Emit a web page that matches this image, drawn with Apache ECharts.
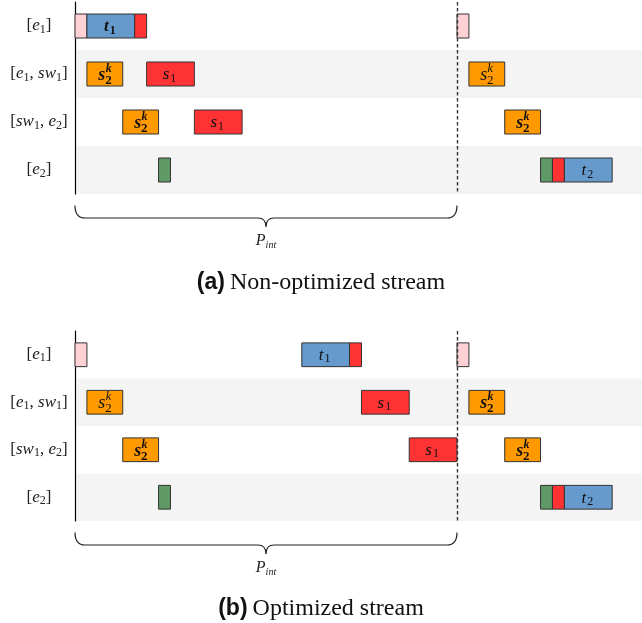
<!DOCTYPE html>
<html><head><meta charset="utf-8">
<script src="https://cdn.jsdelivr.net/npm/echarts@6/dist/echarts.min.js"></script>
<style>html,body{margin:0;padding:0;background:#fff}#c{width:642px;height:623px}</style>
</head><body><div id="c"></div>
<script>
// ---- data ----
const rowLabels = ['[e_1]', '[e_1, sw_1]', '[sw_1, e_2]', '[e_2]'];
const periodEnd = 32;      // end of P_int (in slot units)
const xMax = 47.5;
// each bar: [row, start, end, kind, label, bold]
const barsA = [
  [0, 0, 1, 'pink', '', 0], [0, 1, 5, 'blue', 't_1', 1], [0, 5, 6, 'red', '', 0], [0, 32, 33, 'pink', '', 0],
  [1, 1, 4, 'orange', 's_2^k', 1], [1, 6, 10, 'red', 's_1', 0], [1, 33, 36, 'orange', 's_2^k', 0],
  [2, 4, 7, 'orange', 's_2^k', 1], [2, 10, 14, 'red', 's_1', 0], [2, 36, 39, 'orange', 's_2^k', 1],
  [3, 7, 8, 'green', '', 0], [3, 39, 40, 'green', '', 0], [3, 40, 41, 'red', '', 0], [3, 41, 45, 'blue', 't_2', 0]
];
const barsB = [
  [0, 0, 1, 'pink', '', 0], [0, 19, 23, 'blue', 't_1', 0], [0, 23, 24, 'red', '', 0], [0, 32, 33, 'pink', '', 0],
  [1, 1, 4, 'orange', 's_2^k', 0], [1, 24, 28, 'red', 's_1', 0], [1, 33, 36, 'orange', 's_2^k', 1],
  [2, 4, 7, 'orange', 's_2^k', 1], [2, 28, 32, 'red', 's_1', 0], [2, 36, 39, 'orange', 's_2^k', 1],
  [3, 7, 8, 'green', '', 0], [3, 39, 40, 'green', '', 0], [3, 40, 41, 'red', '', 0], [3, 41, 45, 'blue', 't_2', 0]
];
const captionA = ['(a)', 'Non-optimized stream'];
const captionB = ['(b)', 'Optimized stream'];
const braceLabel = ['P', 'int'];

// ---- styles ----
const colors = {pink: '#ffd1d4', blue: '#6699cc', red: '#ff3333', orange: '#ff9900', green: '#5f9966'};
const SERIF = 'Liberation Serif';

function mathRich(str) {
  let out = '';
  for (let i = 0; i < str.length; i++) {
    const c = str[i];
    if (c === '_') { out += '{sub|' + str[++i] + '}'; }
    else if (/[a-z]/i.test(c)) out += '{it|' + c + '}';
    else out += '{up|' + c + '}';
  }
  return out;
}

function makeBarRender(bars) {
  return function (params, api) {
    const b = bars[params.dataIndex];
    const p0 = api.coord([api.value(1), api.value(0)]);
    const p1 = api.coord([api.value(2), api.value(0)]);
    const h = api.size([0, 1])[1] * 0.5;
    const cx = (p0[0] + p1[0]) / 2, cy = p0[1];
    const children = [{
      type: 'rect',
      shape: {x: p0[0], y: cy - h / 2, width: p1[0] - p0[0], height: h},
      style: {fill: colors[b[3]], stroke: '#333', lineWidth: 1}
    }];
    const label = b[4];
    const fw = b[5] ? 'bold' : 'normal';
    if (label.indexOf('^') >= 0) {
      const base = label[0], sub = label[2], sup = label[4];
      children.push({type: 'text', style: {text: base, x: cx + 0.5, y: cy + 1.5, align: 'right', verticalAlign: 'middle',
        fontFamily: SERIF, fontStyle: 'italic', fontWeight: fw, fontSize: 18, fill: '#111'}});
      children.push({type: 'text', style: {text: sup, x: cx + 0.8, y: cy - 5, align: 'left', verticalAlign: 'middle',
        fontFamily: SERIF, fontStyle: 'italic', fontWeight: fw, fontSize: 12, fill: '#111'}});
      children.push({type: 'text', style: {text: sub, x: cx + 0.3, y: cy + 6.5, align: 'left', verticalAlign: 'middle',
        fontFamily: SERIF, fontWeight: fw, fontSize: 13, fill: '#111'}});
    } else if (label) {
      const parts = label.split('_');
      children.push({type: 'text', style: {
        text: '{b|' + parts[0] + '}{s|' + parts[1] + '}', x: cx - 1, y: cy + 1, align: 'center', verticalAlign: 'middle',
        rich: {
          b: {fontFamily: SERIF, fontStyle: 'italic', fontWeight: fw, fontSize: 17, fill: '#111'},
          s: {fontFamily: SERIF, fontWeight: fw, fontSize: 12, padding: [7, 0, 0, 1], fill: '#111'}
        }}});
    }
    return {type: 'group', children: children};
  };
}

function braceRender(params, api) {
  const cs = params.coordSys;
  const x0 = api.coord([api.value(0), 0])[0];
  const x1 = api.coord([api.value(1), 0])[0];
  const yb = cs.y + cs.height;
  const yTop = yb + 11.5, yMid = yb + 24, yTip = yb + 33;
  const xc = (x0 + x1) / 2, r = 10, rt = 8;
  const d = 'M' + x0 + ' ' + yTop + ' Q' + x0 + ' ' + yMid + ' ' + (x0 + r) + ' ' + yMid +
    ' L' + (xc - rt) + ' ' + yMid + ' Q' + xc + ' ' + yMid + ' ' + xc + ' ' + yTip +
    ' Q' + xc + ' ' + yMid + ' ' + (xc + rt) + ' ' + yMid +
    ' L' + (x1 - r) + ' ' + yMid + ' Q' + x1 + ' ' + yMid + ' ' + x1 + ' ' + yTop;
  return {type: 'group', children: [
    {type: 'path', shape: {pathData: d}, style: {fill: 'none', stroke: '#222', lineWidth: 1.2}},
    {type: 'text', style: {text: '{p|' + braceLabel[0] + '}{s|' + braceLabel[1] + '}', x: xc, y: yb + 47, align: 'center', verticalAlign: 'middle',
      rich: {
        p: {fontFamily: SERIF, fontStyle: 'italic', fontSize: 16, fill: '#222'},
        s: {fontFamily: SERIF, fontStyle: 'italic', fontSize: 10, padding: [8, 0, 0, 0], fill: '#222'}
      }}}
  ]};
}

const labelRich = {
  up: {fontFamily: SERIF, fontSize: 17, color: '#222'},
  it: {fontFamily: SERIF, fontStyle: 'italic', fontSize: 17, color: '#222'},
  sub: {fontFamily: SERIF, fontSize: 12, padding: [7, 0, 0, 0], color: '#222'}
};

function yAxisFor(gi) {
  return {
    gridIndex: gi, type: 'category', data: rowLabels, inverse: true,
    axisLine: {show: true, lineStyle: {color: '#000', width: 1.2}},
    axisTick: {show: false}, splitLine: {show: false},
    splitArea: {show: true, areaStyle: {color: ['#ffffff', '#f4f4f4']}},
    axisLabel: {formatter: mathRich, align: 'center', margin: 36, rich: labelRich}
  };
}

function barSeries(bars, gi) {
  return {
    type: 'custom', xAxisIndex: gi, yAxisIndex: gi, clip: false, silent: true,
    renderItem: makeBarRender(bars),
    data: bars.map(b => [b[0], b[1], b[2]]),
    encode: {x: [1, 2], y: 0},
    markLine: {
      symbol: ['none', 'none'], silent: true, label: {show: false},
      lineStyle: {type: [3.5, 2.5], color: '#333', width: 1.4},
      data: [{xAxis: periodEnd}]
    }
  };
}

function braceSeries(gi) {
  return {
    type: 'custom', xAxisIndex: gi, yAxisIndex: gi, clip: false, silent: true,
    renderItem: braceRender, data: [[0, periodEnd]], encode: {x: [0, 1]}
  };
}

const capRich = {
  b: {fontFamily: 'Liberation Sans', fontWeight: 'bold', fontSize: 23, color: '#111'},
  t: {fontFamily: SERIF, fontWeight: 'normal', fontSize: 24, color: '#111'}
};

const chart = echarts.init(document.getElementById('c'), null, {renderer: 'canvas'});
chart.setOption({
  animation: false,
  backgroundColor: '#fff',
  title: [
    {text: '{b|' + captionA[0] + '} {t|' + captionA[1] + '}', left: 'center', top: 271, padding: 0,
      textStyle: {fontWeight: 'normal', rich: capRich}},
    {text: '{b|' + captionB[0] + '} {t|' + captionB[1] + '}', left: 'center', top: 597, padding: 0,
      textStyle: {fontWeight: 'normal', rich: capRich}}
  ],
  grid: [
    {left: 75, right: 0, top: 2, height: 192},
    {left: 75, right: 0, top: 331, height: 190}
  ],
  xAxis: [
    {gridIndex: 0, type: 'value', min: 0, max: xMax, show: false},
    {gridIndex: 1, type: 'value', min: 0, max: xMax, show: false}
  ],
  yAxis: [yAxisFor(0), yAxisFor(1)],
  series: [barSeries(barsA, 0), braceSeries(0), barSeries(barsB, 1), braceSeries(1)]
});
</script></body></html>
